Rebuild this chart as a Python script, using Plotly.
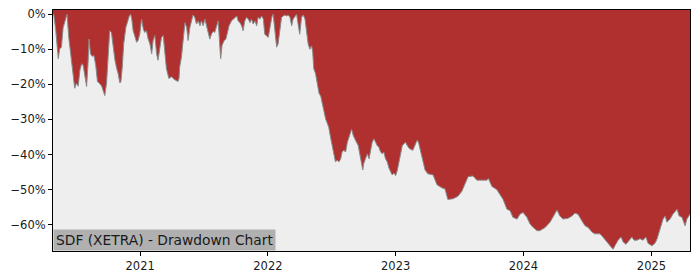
import plotly.graph_objects as go

dates = [
    "2020-04-27", "2020-04-29", "2020-05-05", "2020-05-12", "2020-05-16", "2020-05-21", "2020-05-26", "2020-05-31",
    "2020-06-05", "2020-06-06", "2020-06-11", "2020-06-17", "2020-06-24", "2020-06-28", "2020-07-03",
    "2020-07-08", "2020-07-13", "2020-07-18", "2020-07-22", "2020-07-27", "2020-08-01", "2020-08-05",
    "2020-08-08", "2020-08-12", "2020-08-17", "2020-08-22", "2020-08-27", "2020-09-01", "2020-09-06",
    "2020-09-13", "2020-09-17", "2020-09-22", "2020-09-27", "2020-10-02", "2020-10-06", "2020-10-11",
    "2020-10-16", "2020-10-21", "2020-10-26", "2020-10-30", "2020-11-04", "2020-11-07", "2020-11-11",
    "2020-11-15", "2020-11-21", "2020-11-26", "2020-12-01", "2020-12-05", "2020-12-08", "2020-12-12",
    "2020-12-17", "2020-12-22", "2020-12-26", "2020-12-31",
    "2021-01-05", "2021-01-10", "2021-01-14", "2021-01-19", "2021-01-24", "2021-01-29", "2021-02-03",
    "2021-02-07", "2021-02-12", "2021-02-17", "2021-02-21", "2021-02-26", "2021-03-03", "2021-03-08",
    "2021-03-13", "2021-03-17", "2021-03-24", "2021-04-01", "2021-04-07", "2021-04-15", "2021-04-19",
    "2021-04-22", "2021-04-24", "2021-04-29", "2021-05-04", "2021-05-09", "2021-05-14", "2021-05-18",
    "2021-05-23", "2021-05-28", "2021-06-01", "2021-06-06", "2021-06-11", "2021-06-16", "2021-06-21",
    "2021-06-25", "2021-06-30", "2021-07-05", "2021-07-10", "2021-07-14", "2021-07-19", "2021-07-24",
    "2021-07-29", "2021-08-02", "2021-08-07", "2021-08-12", "2021-08-15", "2021-08-19", "2021-08-23",
    "2021-08-29", "2021-09-03", "2021-09-08", "2021-09-12", "2021-09-19", "2021-09-24", "2021-09-29",
    "2021-10-04", "2021-10-08", "2021-10-13", "2021-10-18", "2021-10-22", "2021-10-27", "2021-11-01",
    "2021-11-06", "2021-11-11", "2021-11-15", "2021-11-20", "2021-11-25", "2021-11-30", "2021-12-04",
    "2021-12-09", "2021-12-14", "2021-12-19", "2021-12-23", "2021-12-28",
    "2022-01-02", "2022-01-07", "2022-01-12", "2022-01-16", "2022-01-21", "2022-01-26", "2022-01-30",
    "2022-02-04", "2022-02-09", "2022-02-14", "2022-02-19", "2022-02-23", "2022-02-28", "2022-03-05",
    "2022-03-10", "2022-03-14", "2022-03-19", "2022-03-24", "2022-03-29", "2022-04-02", "2022-04-07",
    "2022-04-12", "2022-04-17", "2022-04-22", "2022-04-26", "2022-05-01", "2022-05-06", "2022-05-09",
    "2022-05-12", "2022-05-17", "2022-05-22", "2022-05-27", "2022-06-01", "2022-06-05", "2022-06-10",
    "2022-06-15", "2022-06-19", "2022-06-24", "2022-06-29", "2022-07-04", "2022-07-09", "2022-07-13",
    "2022-07-18", "2022-07-23", "2022-07-28", "2022-08-01", "2022-08-06", "2022-08-11", "2022-08-16",
    "2022-08-20", "2022-08-25", "2022-08-28", "2022-09-02", "2022-09-07", "2022-09-11", "2022-09-16",
    "2022-09-21", "2022-09-26", "2022-09-29", "2022-10-02", "2022-10-07", "2022-10-12", "2022-10-17",
    "2022-10-21", "2022-10-26", "2022-10-31", "2022-11-05", "2022-11-09", "2022-11-14", "2022-11-19",
    "2022-11-24", "2022-11-28", "2022-12-03", "2022-12-08", "2022-12-13", "2022-12-18", "2022-12-22",
    "2022-12-27",
    "2023-01-01", "2023-01-06", "2023-01-10", "2023-01-15", "2023-01-20", "2023-01-25", "2023-01-29",
    "2023-02-03", "2023-02-09", "2023-02-19", "2023-03-03", "2023-03-07", "2023-03-17", "2023-03-26",
    "2023-04-03", "2023-04-18", "2023-04-29", "2023-05-13", "2023-05-22", "2023-05-30", "2023-06-14",
    "2023-06-28", "2023-07-09", "2023-07-18", "2023-07-27", "2023-08-10", "2023-08-21", "2023-09-05",
    "2023-09-19", "2023-09-23", "2023-10-03", "2023-10-17", "2023-10-26", "2023-11-04", "2023-11-15",
    "2023-11-24", "2023-12-02", "2023-12-14", "2023-12-22", "2023-12-31",
    "2024-01-11", "2024-01-20", "2024-01-28", "2024-02-09", "2024-02-17", "2024-03-03", "2024-03-17",
    "2024-03-25", "2024-04-06", "2024-04-14", "2024-04-23", "2024-05-07", "2024-05-19", "2024-05-27",
    "2024-06-05", "2024-06-16", "2024-06-25", "2024-07-04", "2024-07-15", "2024-07-23", "2024-08-07",
    "2024-08-15", "2024-08-27", "2024-09-04", "2024-09-13", "2024-09-19", "2024-09-27", "2024-10-06",
    "2024-10-12", "2024-10-20", "2024-10-26", "2024-11-06", "2024-11-12", "2024-11-21", "2024-11-29",
    "2024-12-08", "2024-12-16", "2024-12-22",
    "2025-01-02", "2025-01-11", "2025-01-17", "2025-01-25", "2025-02-03", "2025-02-09", "2025-02-14",
    "2025-02-23", "2025-03-03", "2025-03-15", "2025-03-21", "2025-03-29", "2025-04-07", "2025-04-12",
    "2025-04-18", "2025-04-21",
]

drawdown = [
    0.0, 0.0, -4.7, -12.7, -9.9, -9.4, -3.8, -1.9,
    -0.5, 0.0, -6.6, -11.3, -16.9, -21.1, -19.7,
    -20.5, -15.9, -14.1, -14.5, -17.8, -20.6, -14.1,
    -7.1, -11.3, -12.0, -11.8, -14.5, -19.2, -19.6,
    -20.5, -22.0, -23.2, -19.6, -11.3, -4.7, -5.3,
    -9.4, -13.1, -15.5, -16.9, -19.6, -19.2, -15.0,
    -8.5, -3.8, -1.9, -0.5, 0.0, -1.4, -4.7,
    -6.6, -8.0, -7.5, -5.6,
    -1.4, -4.2, -5.2, -4.7, -7.1, -8.5, -11.3,
    -7.5, -6.1, -11.3, -13.1, -9.4, -6.6, -6.1,
    -11.3, -15.5, -18.3, -17.8, -18.5, -19.0, -19.2,
    -18.3, -15.0, -12.2, -7.5, -2.4, -3.8, -7.5,
    -3.8, -1.4, -0.2, -0.9, -2.8, -1.9, -3.3,
    -1.9, -3.3, -1.4, -3.8, -4.7, -7.1, -5.6,
    -4.9, -5.2, -3.8, -1.9, -6.6, -12.7, -8.9,
    -7.5, -7.1, -4.7, -3.3, -1.9, -1.4, -0.9,
    -0.5, -1.9, -2.4, -3.3, -4.7, -1.9, -0.9,
    -1.4, -2.4, -1.4, -2.8, -1.9, -3.3, -0.9,
    -1.4, -0.5, -1.4, -5.7, -6.1,
    -6.6, -3.8, -0.9, 0.0, -4.7, -9.4, -8.5,
    -3.8, -0.9, -0.5, -0.2, -0.5, -0.2, -0.9,
    -3.3, -1.4, -0.5, 0.0, -3.3, -5.7, -0.9,
    -0.2, -1.4, -4.7, -8.5, -10.0, -9.0, -10.8,
    -15.5, -16.9, -19.2, -22.5, -23.4, -25.3, -28.5,
    -29.9, -30.9, -32.3, -35.1, -37.4, -40.7, -42.1,
    -41.6, -42.1, -41.2, -39.3, -38.8, -39.3, -36.5,
    -35.1, -33.7, -32.8, -34.6, -36.0, -36.5, -37.4,
    -40.2, -42.1, -44.4, -42.5, -41.2, -39.8, -41.2,
    -39.3, -36.5, -35.5, -36.9, -37.4, -37.9, -39.3,
    -39.8, -39.3, -41.2, -42.1, -43.9, -45.3, -45.8,
    -45.3,
    -46.0, -44.4, -42.1, -39.3, -37.4, -36.9, -36.5,
    -37.4, -38.3, -38.8, -36.0, -36.4, -41.1, -44.4,
    -45.5, -45.8, -48.6, -49.5, -49.8, -52.8, -52.6,
    -51.9, -50.5, -48.6, -46.3, -46.1, -47.3, -47.3,
    -47.3, -46.8, -49.1, -50.0, -51.4, -52.8, -55.6,
    -56.0, -57.9, -58.4, -57.0, -56.5,
    -57.9, -59.8, -60.7, -61.7, -61.7, -60.8, -59.3,
    -57.9, -55.8, -57.5, -58.4, -58.2, -57.5, -56.7,
    -57.0, -58.9, -60.3, -60.8, -62.1, -62.6, -62.6,
    -63.5, -64.9, -66.0, -67.0, -65.9, -64.5, -63.5,
    -64.9, -65.6, -64.9, -63.5, -64.4, -64.4, -64.0,
    -64.4, -63.5, -65.3,
    -66.0, -65.3, -64.0, -61.2, -58.4, -57.5, -59.3,
    -58.4, -57.0, -55.6, -57.5, -57.9, -60.3, -58.4,
    -57.3, -57.0,
]

y_ticks = [0, -10, -20, -30, -40, -50, -60]
y_tick_labels = ["0%", "\u221210%", "\u221220%", "\u221230%", "\u221240%", "\u221250%", "\u221260%"]
x_ticks = ["2021-01-01", "2022-01-01", "2023-01-01", "2024-01-01", "2025-01-01"]
x_tick_labels = ["2021", "2022", "2023", "2024", "2025"]
title_text = "SDF (XETRA) - Drawdown Chart"

y_min, y_max = -67.5, 1.2
x_range = ["2020-04-27", "2025-04-21"]

RED = "#B03030"
GRAY = "#EEEEEE"

fig = go.Figure()
fig.add_trace(go.Scatter(
    x=dates, y=[y_min - 5] * len(dates), mode="lines",
    line=dict(width=0, color=GRAY), hoverinfo="skip", showlegend=False,
))
fig.add_trace(go.Scatter(
    x=dates, y=drawdown, mode="lines", fill="tonexty", fillcolor=GRAY,
    line=dict(width=1, color="#8a8a8a"), showlegend=False,
))

axis_font = dict(family="DejaVu Sans", size=11.5, color="#1a1a1a")
fig.update_layout(
    width=700, height=280,
    margin=dict(l=53, r=10, t=7, b=28),
    paper_bgcolor="white",
    plot_bgcolor=RED,
    xaxis=dict(
        type="date", range=x_range, tickvals=x_ticks, ticktext=x_tick_labels,
        showgrid=False, zeroline=False, ticks="outside", ticklen=4, tickwidth=1,
        tickcolor="black", showline=True, linecolor="black", linewidth=1, mirror=True,
        tickfont=axis_font,
    ),
    yaxis=dict(
        range=[y_min, y_max], tickvals=y_ticks, ticktext=y_tick_labels,
        showgrid=False, zeroline=False, ticks="outside", ticklen=4, tickwidth=1,
        tickcolor="black", showline=True, linecolor="black", linewidth=1, mirror=True,
        tickfont=axis_font,
    ),
    annotations=[dict(
        text=title_text, xref="paper", yref="paper", x=0, y=0,
        xanchor="left", yanchor="bottom", showarrow=False,
        font=dict(family="DejaVu Sans", size=13.8, color="#1a1a1a"),
        bgcolor="#b0b0b0", borderpad=2,
    )],
)

fig.write_html("out.html")
